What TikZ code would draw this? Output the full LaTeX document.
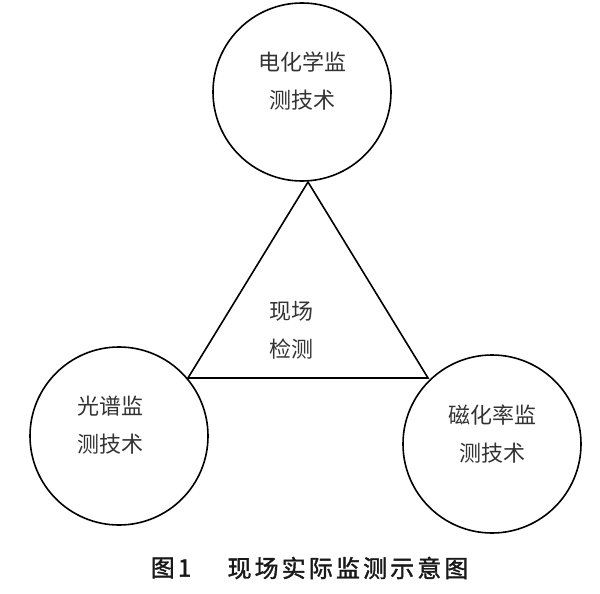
\documentclass[tikz,border=0pt]{standalone}
\usepackage{fontspec}
\newfontfamily\cjk{Noto Sans CJK SC}
\newfontfamily\cjkcap[LetterSpace=13,FakeBold=1.5]{Noto Sans CJK SC}
\begin{document}
\begin{tikzpicture}[x=1pt,y=-1pt,
  circ/.style={draw,line width=1.6pt,circle,minimum size=178pt,inner sep=0pt},
  lbl/.style={font=\cjk\fontsize{22}{38}\selectfont,align=center,text=black!80},
  edge/.style={line width=1.6pt,line join=miter}]
\useasboundingbox (0,0) rectangle (600,594);
\node[circ] (top) at (302,92) {};
\node[circ] (left) at (119,436) {};
\node[circ] (right) at (492,444) {};
\coordinate (A) at (308,182);
\coordinate (B) at (188,378);
\coordinate (C) at (428,378);
\draw[edge] (A) -- (B) -- (C) -- cycle;
\node[lbl] (t1) at (302,81) {电化学监\\测技术};
\node[lbl] (t2) at (110,425) {光谱监\\测技术};
\node[lbl] (t3) at (492,434) {磁化率监\\测技术};
\node[lbl] (t4) at (291,330) {现场\\检测};
\node[font=\cjkcap\fontsize{24}{26}\selectfont,text=black!90] (cap1) at (171,568) {图1};
\node[font=\cjkcap\fontsize{24}{26}\selectfont,text=black!90] (cap2) at (348,568) {现场实际监测示意图};
\end{tikzpicture}
\end{document}
